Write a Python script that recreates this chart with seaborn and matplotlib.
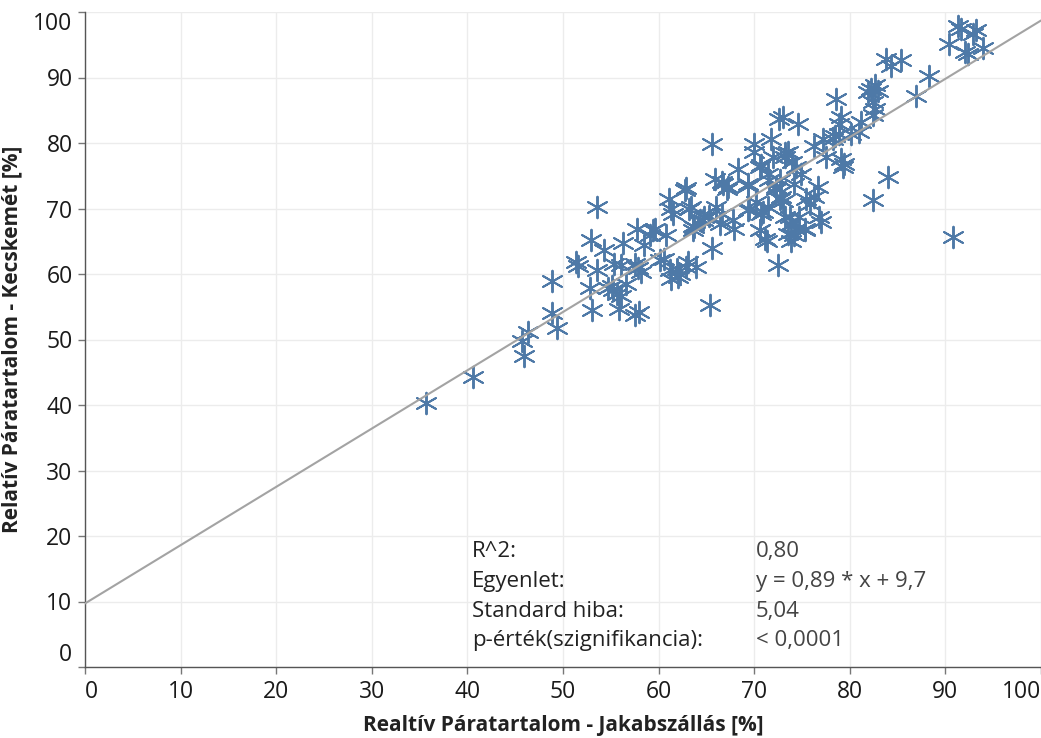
import matplotlib
matplotlib.use("Agg")
import matplotlib.pyplot as plt
import seaborn as sns
import pandas as pd
import numpy as np

# Relative humidity readings (%)
jakabszallas = [
    35.7, 40.6, 45.7, 46.3, 45.9, 48.9, 49.4, 48.9, 51.4, 51.6,
    53.6, 52.9, 54.3, 56.3, 57.7, 53.6, 55.3, 56.1, 52.8, 53.0,
    54.7, 55.6, 56.1, 55.9, 57.5, 58.0, 56.6, 55.1, 59.6, 59.1,
    60.8, 61.1, 62.9, 61.5, 63.4, 63.7, 64.6, 57.5, 58.2, 60.1,
    61.2, 61.9, 62.2, 61.3, 63.1, 63.9, 65.4, 65.6, 70.0, 71.8,
    70.0, 72.6, 74.6, 76.3, 78.2, 78.9, 77.5, 79.4, 68.3, 70.6,
    71.4, 72.0, 73.2, 73.5, 74.0, 74.9, 72.7, 72.3, 74.2, 76.7,
    75.4, 72.8, 65.9, 66.7, 67.2, 62.8, 61.3, 63.2, 65.3, 66.0,
    67.8, 69.3, 69.5, 70.2, 70.9, 70.6, 71.3, 72.5, 73.2, 73.9,
    74.7, 74.2, 75.3, 77.0, 59.4, 58.5, 60.6, 62.9, 65.6, 63.6,
    64.3, 55.2, 91.3, 91.6, 93.2, 90.4, 92.0, 92.4, 93.9, 92.9,
    83.8, 85.4, 84.3, 88.3, 86.9, 82.2, 82.6, 82.9, 81.9, 82.4,
    82.6, 78.6, 82.4, 81.2, 79.1, 78.9, 73.0, 80.1, 81.0, 78.4,
    77.2, 79.1, 79.3, 84.0, 82.4, 90.8, 76.8, 70.7, 73.2, 74.4,
    71.6, 72.3, 66.6, 67.3, 69.3, 72.7, 71.4, 69.3, 70.7, 66.6,
    64.8, 63.6, 66.4, 67.9, 70.6, 71.1, 73.7, 74.4, 75.3, 73.5,
    76.3, 75.8, 73.0, 73.9, 57.8, 62.0,
]
kecskemet = [
    40.3, 44.3, 49.7, 51.2, 47.5, 54.0, 51.8, 58.9, 61.9, 61.2,
    70.3, 65.2, 63.7, 64.7, 66.9, 60.6, 61.5, 61.3, 57.8, 54.5,
    57.8, 57.0, 56.7, 54.7, 53.7, 54.2, 58.5, 58.1, 66.8, 65.9,
    65.9, 71.5, 73.2, 69.2, 70.2, 67.2, 68.3, 61.6, 60.3, 62.1,
    60.6, 60.8, 60.0, 59.3, 61.8, 61.1, 55.3, 79.8, 79.8, 80.6,
    78.6, 83.7, 82.9, 79.6, 80.6, 81.4, 77.8, 76.8, 76.0, 76.3,
    75.3, 77.8, 77.8, 78.6, 77.1, 75.3, 74.3, 73.3, 73.8, 73.3,
    71.5, 71.7, 74.5, 73.8, 73.0, 72.9, 70.0, 70.0, 68.9, 70.2,
    68.2, 73.5, 69.9, 71.0, 69.4, 66.7, 65.1, 61.3, 68.7, 67.7,
    68.7, 65.9, 66.7, 67.9, 66.7, 64.4, 62.3, 61.1, 63.9, 66.7,
    68.2, 57.5, 97.9, 97.4, 97.2, 95.1, 93.9, 93.6, 94.5, 96.6,
    92.8, 92.6, 91.8, 90.3, 87.1, 88.3, 88.8, 88.0, 87.8, 86.2,
    85.2, 86.7, 84.2, 83.2, 83.9, 82.9, 83.9, 81.4, 81.7, 81.1,
    80.6, 77.5, 76.3, 74.8, 71.3, 65.6, 68.7, 76.6, 78.4, 76.3,
    74.3, 73.0, 74.0, 73.3, 73.8, 71.5, 70.2, 69.7, 69.2, 69.2,
    68.7, 67.4, 67.7, 66.9, 66.7, 65.4, 68.7, 66.9, 66.9, 66.1,
    71.7, 70.7, 71.2, 65.1, 60.9, 59.6,
]

# Trend line as reported on the chart
slope = 0.89
intercept = 9.7

stat_labels = ["R^2:", "Egyenlet:", "Standard hiba:", "p-érték(szignifikancia):"]
stat_values = ["0,80", "y = 0,89 * x + 9,7", "5,04", "< 0,0001"]

x_ticks = list(range(0, 101, 10))
y_ticks = list(range(0, 101, 10))

df = pd.DataFrame({"x": jakabszallas, "y": kecskemet})

sns.set_theme(style="white")
plt.rcParams["font.family"] = ["Open Sans", "DejaVu Sans"]

fig = plt.figure(figsize=(10.41, 7.38), dpi=100)
ax = fig.add_axes([85 / 1041, 1 - 667 / 738, 1 - 85 / 1041, (667 - 12) / 738])

blue = "#4e79a7"
trend_x = np.array([0, 100])
ax.plot(trend_x, slope * trend_x + intercept, color="#a3a3a3", lw=1.5, zorder=3)

sns.scatterplot(data=df, x="x", y="y", ax=ax, marker=(6, 2, 0), s=240,
                color=blue, edgecolor=blue, linewidth=1.4, zorder=2)

ax.set_xlim(0, 100)
ax.set_ylim(0, 100)
ax.set_xticks(x_ticks)
ax.set_yticks(y_ticks)
ax.set_xticklabels([str(v) for v in x_ticks])
ax.set_yticklabels([str(v) for v in y_ticks])
ax.grid(True, color="#ececec", lw=1)
ax.set_axisbelow(True)

for s in ["top", "right"]:
    ax.spines[s].set_visible(False)
for s in ["left", "bottom"]:
    ax.spines[s].set_color("#555555")
    ax.spines[s].set_linewidth(1.0)

ax.tick_params(axis="both", which="major", direction="out", length=5, width=1,
               color="#777777", labelsize=16.5, labelcolor="#1a1a1a", pad=4,
               bottom=True, left=True)

xl = ax.get_xticklabels()
xl[0].set_horizontalalignment("left")
xl[-1].set_horizontalalignment("right")
yl = ax.get_yticklabels()
yl[0].set_verticalalignment("bottom")
yl[-1].set_verticalalignment("top")

ax.set_xlabel("Realtív Páratartalom - Jakabszállás [%]", fontsize=15,
              fontweight="bold", color="#222222", labelpad=8)
ax.set_ylabel("Relatív Páratartalom - Kecskemét [%]", fontsize=15,
              fontweight="bold", color="#222222", labelpad=8)

row_y = [17.7, 13.1, 8.5, 4.0]
for lab, val, yy in zip(stat_labels, stat_values, row_y):
    ax.text(40.5, yy, lab, fontsize=16, color="#222222", va="center", ha="left")
    ax.text(70.2, yy, val, fontsize=16, color="#444444", va="center", ha="left")

fig.savefig("out.png", dpi=100)
